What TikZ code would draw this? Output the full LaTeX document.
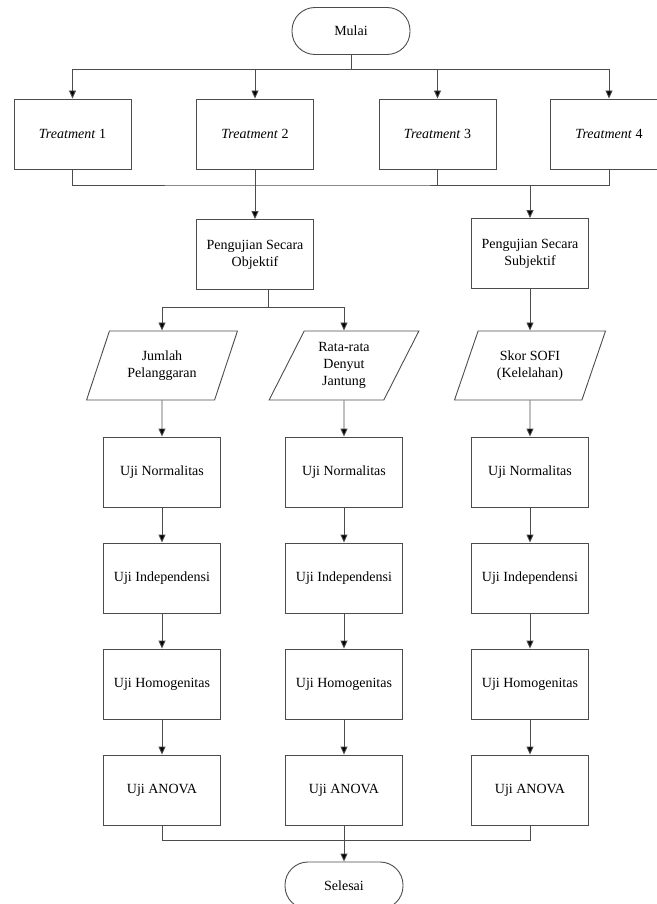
\documentclass[tikz,border=0pt]{standalone}
\usepackage{fontspec}
\setmainfont{Liberation Serif}
\usetikzlibrary{arrows.meta,shapes.geometric}

\tikzset{
  line/.style={line width=0.9pt, black!70},
  arrow/.style={line, -{Triangle[length=8pt,width=7pt,fill=black]}},
  box/.style={draw, line width=0.9pt, black!70, text=black, minimum width=117pt, minimum height=70pt,
    inner sep=2pt, align=center, font=\fontsize{14pt}{17pt}\selectfont},
  terminal/.style={box, minimum height=47pt, minimum width=118pt, rounded corners=23pt},
  para/.style={box, trapezium, trapezium left angle=64, trapezium right angle=116,
    trapezium stretches=true, minimum width=151pt, minimum height=69pt, inner sep=1pt}
}

\begin{document}
\begin{tikzpicture}[x=1pt,y=-1pt]
  \useasboundingbox (0,0) rectangle (656,904);
  % start
  \node [terminal] (mulai) at (351,31) {Mulai};
  \coordinate (split) at (351,69);
  % treatments
  \node [box] (t1) at (72.5,134) {\textit{Treatment} 1};
  \node [box] (t2) at (255,134) {\textit{Treatment} 2};
  \node [box] (t3) at (437.5,134) {\textit{Treatment} 3};
  \node [box] (t4) at (609,134) {\textit{Treatment} 4};
  \draw [line] (mulai) -- (split);
  \foreach \t in {t1,t2,t3,t4}
    \draw [arrow] (split) -| (\t);
  % merge of treatments
  \coordinate (mrg) at (255,185);
  \node [box] (obj) at (255,254.5) {Pengujian Secara\\Objektif};
  \node [box] (sub) at (530,253.5) {Pengujian Secara\\Subjektif};
  \draw [line] (t1) |- (mrg) -| (t4);
  \draw [line] (t3) -- (t3 |- mrg);
  \draw [arrow] (t2) -- (obj);
  \draw [arrow] (sub |- mrg) -- (sub);
  % data
  \node [para] (jml) at (162,365.5) {Jumlah\\Pelanggaran};
  \node [para] (rata) at (344,365.5) {Rata-rata\\Denyut\\Jantung};
  \node [para] (sofi) at (530,365.5) {Skor SOFI\\(Kelelahan)};
  \coordinate (ospl) at (268,307);
  \draw [line] (ospl |- obj.south) -- (ospl);
  \draw [arrow] (ospl) -| (jml);
  \draw [arrow] (ospl) -| (rata);
  \draw [arrow] (sub) -- (sofi);
  % tests per column
  \foreach \c/\x/\d in {a/162/jml,b/344/rata,c/530/sofi} {
    \node [box] (\c1) at (\x,472) {Uji Normalitas};
    \node [box] (\c2) at (\x,578) {Uji Independensi};
    \node [box] (\c3) at (\x,684) {Uji Homogenitas};
    \node [box] (\c4) at (\x,790) {Uji ANOVA};
    \draw [arrow] (\d) -- (\c1);
    \draw [arrow] (\c1) -- (\c2);
    \draw [arrow] (\c2) -- (\c3);
    \draw [arrow] (\c3) -- (\c4);
  }
  % end
  \node [terminal] (selesai) at (344,885.5) {Selesai};
  \coordinate (fin) at (344,840);
  \draw [line] (a4) |- (fin) -| (c4);
  \draw [arrow] (b4) -- (selesai);
\end{tikzpicture}
\end{document}
